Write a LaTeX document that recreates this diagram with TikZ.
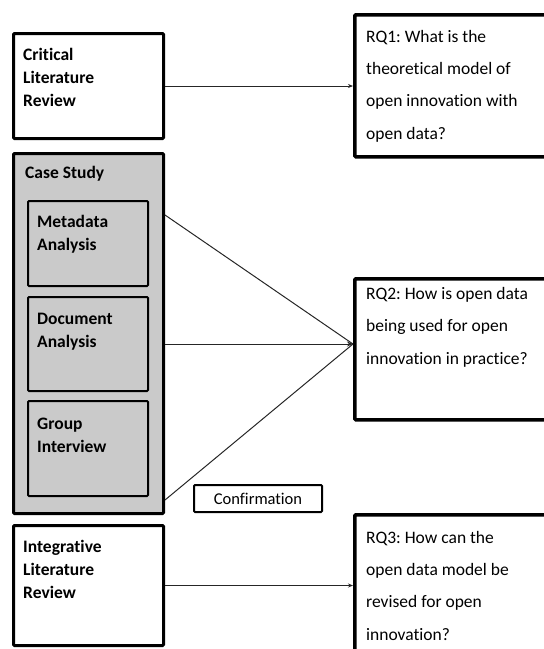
\documentclass[tikz,border=0pt]{standalone}
\usepackage{fontspec}
\setmainfont[Ligatures=CommonOff]{Carlito}
\frenchspacing
\usetikzlibrary{arrows.meta}
\definecolor{casegray}{RGB}{202,202,202}
\begin{document}
\begin{tikzpicture}[x=1pt,y=-1pt,
  box/.style={draw=black, anchor=north west, inner sep=0pt, rounded corners=1pt},
  outerbox/.style={box, line width=3pt},
  innerbox/.style={box, line width=2pt},
  rqbox/.style={box, line width=3.5pt},
  % multi-line labels sit on the baseline of their last line
  labelbold/.style={anchor=base west, inner sep=0pt, align=left,
    font=\fontsize{17.5}{23}\selectfont\bfseries},
  labelrq/.style={anchor=base west, inner sep=0pt, align=left,
    font=\fontsize{17.5}{32.3}\selectfont},
  conn/.style={draw=black!85, line width=1pt},
  tip/.style={-{Stealth[length=5pt,width=4pt]}}
]
\useasboundingbox (0,0) rectangle (544,649);
\clip (0,0) rectangle (544,649);

% left column: methods
\node[outerbox, minimum width=150pt, minimum height=105pt] (clr) at (12,32) {};
\node[outerbox, fill=casegray, minimum width=150pt, minimum height=360pt] (case) at (12,152) {};
\node[innerbox, minimum width=120pt, minimum height=85pt] (meta) at (27,200) {};
\node[innerbox, minimum width=120pt, minimum height=94pt] (doc) at (27,296) {};
\node[innerbox, minimum width=120pt, minimum height=95pt] (grp) at (27,400) {};
\node[outerbox, minimum width=150pt, minimum height=120pt] (integ) at (12,524) {};

% right column: research questions
\node[rqbox, minimum width=220pt, minimum height=142pt] (rq1) at (353,13) {};
\node[rqbox, minimum width=220pt, minimum height=141pt] (rq2) at (353,277) {};
\node[rqbox, minimum width=220pt, minimum height=160pt] (rq3) at (353,513) {};

% confirmation tag
\node[box, line width=2pt, minimum width=128pt, minimum height=27pt] (conf) at (193,484) {};
\node[inner sep=0pt, font=\fontsize{16.5}{20}\selectfont] (conftext) at (conf.center) {Confirmation};

% box texts
\node[labelbold] (clrtext) at (23,106) {Critical\\Literature\\Review};
\node[labelbold] (casetext) at (25,178) {Case Study};
\node[labelbold] (metatext) at (37,250) {Metadata\\Analysis};
\node[labelbold] (doctext) at (37,347) {Document\\Analysis};
\node[labelbold] (grptext) at (37,452) {Group\\Interview};
\node[labelbold] (integtext) at (23,598) {Integrative\\Literature\\Review};

\node[labelrq] (rq1text) at (366,139) {RQ1: What is the\\theoretical model of\\open innovation with\\open data?};
\node[labelrq] (rq2text) at (366,364) {RQ2: How is open data\\being used for open\\innovation in practice?};
\node[labelrq] (rq3text) at (366,640) {RQ3: How can the\\open data model be\\revised for open\\innovation?};

% connectors
\coordinate (hub) at (rq2.west |- doc.east);
\draw[conn, tip] (clr.east) -- (clr.east -| rq1.west);
\draw[conn] (case.east |- meta.north) ++(0,15) -- (hub);
\draw[conn, -{Stealth[length=6pt,width=5pt]}] (case.east |- doc.east) -- (hub);
\draw[conn] (case.east |- grp.south) ++(0,3) -- (hub);
\draw[conn, tip] (integ.east) -- (integ.east -| rq3.west);
\end{tikzpicture}
\end{document}
